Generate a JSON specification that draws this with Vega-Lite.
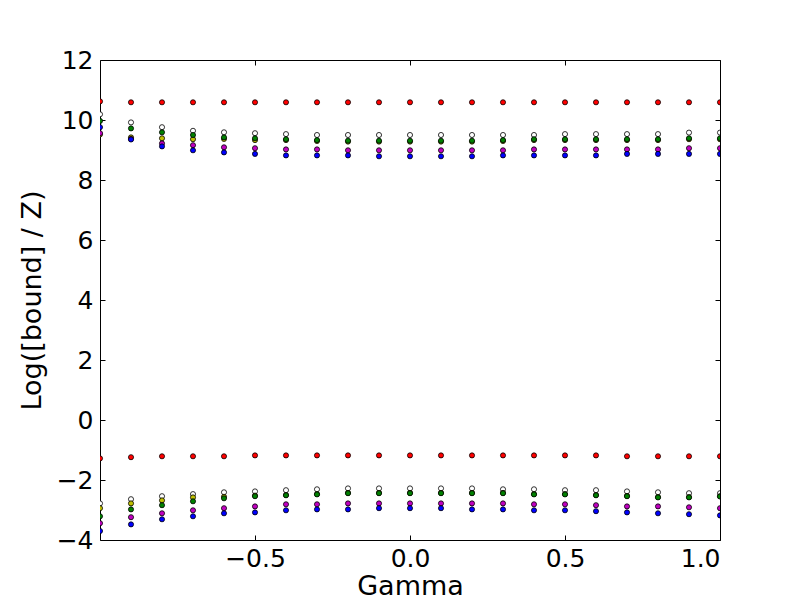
{
  "$schema": "https://vega.github.io/schema/vega-lite/v6.json",
  "width": 620,
  "height": 480,
  "autosize": {"type": "none"},
  "padding": {"left": 100, "top": 60, "right": 80, "bottom": 60},
  "background": "white",
  "config": {
    "view": {"stroke": "black", "strokeWidth": 1},
    "font": "DejaVu Sans",
    "axis": {"grid": false, "domain": false, "tickColor": "black", "labelColor": "black", "titleColor": "black", "tickSize": -5, "labelFontSize": 25, "titleFontSize": 27, "titleFontWeight": "normal", "labelFont": "DejaVu Sans", "titleFont": "DejaVu Sans"}
  },
  "data": {"values": [
    {"g": -1.0, "s": "a", "u": 10.62, "l": -1.28},
    {"g": -0.9, "s": "a", "u": 10.59, "l": -1.24},
    {"g": -0.8, "s": "a", "u": 10.59, "l": -1.21},
    {"g": -0.7, "s": "a", "u": 10.59, "l": -1.21},
    {"g": -0.6, "s": "a", "u": 10.59, "l": -1.21},
    {"g": -0.5, "s": "a", "u": 10.59, "l": -1.18},
    {"g": -0.4, "s": "a", "u": 10.59, "l": -1.18},
    {"g": -0.3, "s": "a", "u": 10.59, "l": -1.18},
    {"g": -0.2, "s": "a", "u": 10.59, "l": -1.18},
    {"g": -0.1, "s": "a", "u": 10.59, "l": -1.18},
    {"g": 0.0, "s": "a", "u": 10.59, "l": -1.18},
    {"g": 0.1, "s": "a", "u": 10.59, "l": -1.18},
    {"g": 0.2, "s": "a", "u": 10.59, "l": -1.18},
    {"g": 0.3, "s": "a", "u": 10.59, "l": -1.18},
    {"g": 0.4, "s": "a", "u": 10.59, "l": -1.18},
    {"g": 0.5, "s": "a", "u": 10.59, "l": -1.18},
    {"g": 0.6, "s": "a", "u": 10.59, "l": -1.18},
    {"g": 0.7, "s": "a", "u": 10.59, "l": -1.21},
    {"g": 0.8, "s": "a", "u": 10.59, "l": -1.21},
    {"g": 0.9, "s": "a", "u": 10.59, "l": -1.21},
    {"g": 1.0, "s": "a", "u": 10.59, "l": -1.21},
    {"g": -1.0, "s": "b", "u": 10.19, "l": -2.78},
    {"g": -0.9, "s": "b", "u": 9.92, "l": -2.64},
    {"g": -0.8, "s": "b", "u": 9.76, "l": -2.54},
    {"g": -0.7, "s": "b", "u": 9.64, "l": -2.47},
    {"g": -0.6, "s": "b", "u": 9.59, "l": -2.41},
    {"g": -0.5, "s": "b", "u": 9.56, "l": -2.38},
    {"g": -0.4, "s": "b", "u": 9.53, "l": -2.34},
    {"g": -0.3, "s": "b", "u": 9.5, "l": -2.31},
    {"g": -0.2, "s": "b", "u": 9.5, "l": -2.28},
    {"g": -0.1, "s": "b", "u": 9.5, "l": -2.28},
    {"g": 0.0, "s": "b", "u": 9.5, "l": -2.28},
    {"g": 0.1, "s": "b", "u": 9.5, "l": -2.28},
    {"g": 0.2, "s": "b", "u": 9.5, "l": -2.28},
    {"g": 0.3, "s": "b", "u": 9.5, "l": -2.31},
    {"g": 0.4, "s": "b", "u": 9.5, "l": -2.31},
    {"g": 0.5, "s": "b", "u": 9.53, "l": -2.34},
    {"g": 0.6, "s": "b", "u": 9.53, "l": -2.34},
    {"g": 0.7, "s": "b", "u": 9.53, "l": -2.38},
    {"g": 0.8, "s": "b", "u": 9.53, "l": -2.41},
    {"g": 0.9, "s": "b", "u": 9.58, "l": -2.44},
    {"g": 1.0, "s": "b", "u": 9.58, "l": -2.44},
    {"g": -1.0, "s": "c", "u": 9.52, "l": -2.94},
    {"g": -0.9, "s": "c", "u": 9.42, "l": -2.78},
    {"g": -0.8, "s": "c", "u": 9.39, "l": -2.68},
    {"g": -0.7, "s": "c", "u": 9.36, "l": -2.58},
    {"g": -0.6, "s": "c", "u": 9.37, "l": -2.56},
    {"g": -0.5, "s": "c", "u": 9.33, "l": -2.52},
    {"g": -0.4, "s": "c", "u": 9.33, "l": -2.5},
    {"g": -0.3, "s": "c", "u": 9.3, "l": -2.47},
    {"g": -0.2, "s": "c", "u": 9.28, "l": -2.43},
    {"g": -0.1, "s": "c", "u": 9.28, "l": -2.43},
    {"g": 0.0, "s": "c", "u": 9.28, "l": -2.43},
    {"g": 0.1, "s": "c", "u": 9.28, "l": -2.43},
    {"g": 0.2, "s": "c", "u": 9.28, "l": -2.43},
    {"g": 0.3, "s": "c", "u": 9.3, "l": -2.43},
    {"g": 0.4, "s": "c", "u": 9.33, "l": -2.47},
    {"g": 0.5, "s": "c", "u": 9.33, "l": -2.47},
    {"g": 0.6, "s": "c", "u": 9.33, "l": -2.5},
    {"g": 0.7, "s": "c", "u": 9.33, "l": -2.53},
    {"g": 0.8, "s": "c", "u": 9.33, "l": -2.57},
    {"g": 0.9, "s": "c", "u": 9.36, "l": -2.57},
    {"g": 1.0, "s": "c", "u": 9.36, "l": -2.54},
    {"g": -1.0, "s": "d", "u": 9.97, "l": -3.21},
    {"g": -0.9, "s": "d", "u": 9.72, "l": -2.98},
    {"g": -0.8, "s": "d", "u": 9.59, "l": -2.84},
    {"g": -0.7, "s": "d", "u": 9.5, "l": -2.71},
    {"g": -0.6, "s": "d", "u": 9.42, "l": -2.61},
    {"g": -0.5, "s": "d", "u": 9.39, "l": -2.54},
    {"g": -0.4, "s": "d", "u": 9.36, "l": -2.51},
    {"g": -0.3, "s": "d", "u": 9.33, "l": -2.48},
    {"g": -0.2, "s": "d", "u": 9.31, "l": -2.44},
    {"g": -0.1, "s": "d", "u": 9.31, "l": -2.44},
    {"g": 0.0, "s": "d", "u": 9.31, "l": -2.44},
    {"g": 0.1, "s": "d", "u": 9.31, "l": -2.44},
    {"g": 0.2, "s": "d", "u": 9.31, "l": -2.44},
    {"g": 0.3, "s": "d", "u": 9.33, "l": -2.44},
    {"g": 0.4, "s": "d", "u": 9.36, "l": -2.48},
    {"g": 0.5, "s": "d", "u": 9.36, "l": -2.48},
    {"g": 0.6, "s": "d", "u": 9.36, "l": -2.51},
    {"g": 0.7, "s": "d", "u": 9.36, "l": -2.54},
    {"g": 0.8, "s": "d", "u": 9.36, "l": -2.58},
    {"g": 0.9, "s": "d", "u": 9.39, "l": -2.58},
    {"g": 1.0, "s": "d", "u": 9.39, "l": -2.55},
    {"g": -1.0, "s": "e", "u": 9.56, "l": -3.44},
    {"g": -0.9, "s": "e", "u": 9.37, "l": -3.24},
    {"g": -0.8, "s": "e", "u": 9.22, "l": -3.11},
    {"g": -0.7, "s": "e", "u": 9.16, "l": -3.01},
    {"g": -0.6, "s": "e", "u": 9.09, "l": -2.94},
    {"g": -0.5, "s": "e", "u": 9.06, "l": -2.88},
    {"g": -0.4, "s": "e", "u": 9.02, "l": -2.81},
    {"g": -0.3, "s": "e", "u": 9.02, "l": -2.81},
    {"g": -0.2, "s": "e", "u": 8.99, "l": -2.78},
    {"g": -0.1, "s": "e", "u": 8.99, "l": -2.78},
    {"g": 0.0, "s": "e", "u": 8.99, "l": -2.78},
    {"g": 0.1, "s": "e", "u": 8.99, "l": -2.78},
    {"g": 0.2, "s": "e", "u": 8.99, "l": -2.78},
    {"g": 0.3, "s": "e", "u": 8.99, "l": -2.78},
    {"g": 0.4, "s": "e", "u": 9.02, "l": -2.81},
    {"g": 0.5, "s": "e", "u": 9.02, "l": -2.81},
    {"g": 0.6, "s": "e", "u": 9.02, "l": -2.84},
    {"g": 0.7, "s": "e", "u": 9.02, "l": -2.88},
    {"g": 0.8, "s": "e", "u": 9.02, "l": -2.88},
    {"g": 0.9, "s": "e", "u": 9.06, "l": -2.91},
    {"g": 1.0, "s": "e", "u": 9.06, "l": -2.94},
    {"g": -1.0, "s": "f", "u": 9.76, "l": -3.7},
    {"g": -0.9, "s": "f", "u": 9.35, "l": -3.48},
    {"g": -0.8, "s": "f", "u": 9.12, "l": -3.31},
    {"g": -0.7, "s": "f", "u": 8.99, "l": -3.21},
    {"g": -0.6, "s": "f", "u": 8.92, "l": -3.11},
    {"g": -0.5, "s": "f", "u": 8.87, "l": -3.08},
    {"g": -0.4, "s": "f", "u": 8.82, "l": -3.01},
    {"g": -0.3, "s": "f", "u": 8.82, "l": -2.98},
    {"g": -0.2, "s": "f", "u": 8.82, "l": -2.98},
    {"g": -0.1, "s": "f", "u": 8.79, "l": -2.94},
    {"g": 0.0, "s": "f", "u": 8.79, "l": -2.94},
    {"g": 0.1, "s": "f", "u": 8.79, "l": -2.94},
    {"g": 0.2, "s": "f", "u": 8.79, "l": -2.98},
    {"g": 0.3, "s": "f", "u": 8.82, "l": -2.98},
    {"g": 0.4, "s": "f", "u": 8.82, "l": -3.01},
    {"g": 0.5, "s": "f", "u": 8.82, "l": -3.01},
    {"g": 0.6, "s": "f", "u": 8.82, "l": -3.04},
    {"g": 0.7, "s": "f", "u": 8.87, "l": -3.08},
    {"g": 0.8, "s": "f", "u": 8.87, "l": -3.11},
    {"g": 0.9, "s": "f", "u": 8.87, "l": -3.14},
    {"g": 1.0, "s": "f", "u": 8.87, "l": -3.18}
  ]},
  "transform": [{"fold": ["u", "l"], "as": ["bound", "value"]}],
  "layer": [
    {
      "mark": {"type": "point", "filled": true, "shape": "circle", "size": 26, "stroke": "black", "strokeWidth": 0.8, "opacity": 1, "clip": true},
      "encoding": {
        "x": {"field": "g", "type": "quantitative", "scale": {"domain": [-1, 1], "nice": false, "zero": false},
          "axis": {"orient": "bottom", "values": [-0.5, 0, 0.5, 1], "format": ".1f", "title": "Gamma", "labelPadding": 11, "titlePadding": 2}},
        "y": {"field": "value", "type": "quantitative", "scale": {"domain": [-4, 12], "nice": false, "zero": false},
          "axis": {"orient": "left", "values": [-4, -2, 0, 2, 4, 6, 8, 10, 12], "format": "d", "title": "Log([bound] / Z)", "labelPadding": 12, "titlePadding": 10}},
        "color": {"field": "s", "type": "nominal", "scale": {"domain": ["a", "b", "c", "d", "e", "f"], "range": ["#ff0000", "#ffffff", "#bfbf00", "#008000", "#bf00bf", "#0000ff"]}, "legend": null}
      }
    },
    {
      "mark": {"type": "point", "opacity": 0},
      "encoding": {
        "x": {"field": "g", "type": "quantitative", "axis": {"orient": "top", "values": [-0.5, 0, 0.5, 1], "labels": false, "title": null}},
        "y": {"field": "value", "type": "quantitative", "axis": {"orient": "right", "values": [-4, -2, 0, 2, 4, 6, 8, 10, 12], "labels": false, "title": null}}
      }
    }
  ],
  "resolve": {"axis": {"x": "independent", "y": "independent"}}
}
